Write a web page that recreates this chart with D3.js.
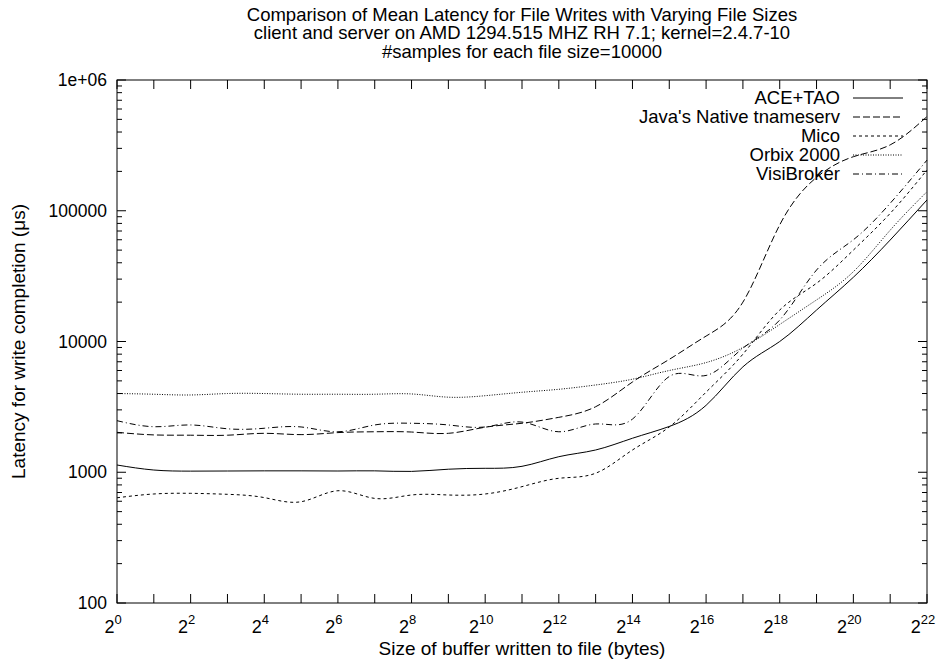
<!DOCTYPE html>
<html lang="en">
<head>
    <meta charset="UTF-8">
    <title>Mean Latency for File Writes</title>
    <style>
        body { margin: 0; background: #fff; }
        svg { font-family: "Liberation Sans", Arial, sans-serif; }
        .line { fill: none; stroke: #000; stroke-width: 1; }
    </style>
</head>
<body>
<svg width="941" height="661"></svg>
<script src="https://d3js.org/d3.v7.min.js"></script>
<script>
    // buffer sizes, 2^0 .. 2^22 bytes
    let sizes = [1, 2, 4, 8, 16, 32, 64, 128, 256, 512, 1024, 2048, 4096, 8192, 16384,
        32768, 65536, 131072, 262144, 524288, 1048576, 2097152, 4194304];

    // mean latency in microseconds
    let aceTao = [1136, 1040, 1020, 1022, 1025, 1025, 1022, 1025, 1015, 1055, 1072, 1110,
        1315, 1480, 1820, 2240, 3250, 6400, 10000, 17400, 31000, 59700, 121000];
    let javaNative = [2020, 1930, 1920, 1920, 1985, 1940, 2010, 2040, 2030, 1985, 2210, 2370,
        2630, 3170, 4900, 7300, 11000, 20000, 78000, 180000, 259000, 319000, 525000];
    let mico = [638, 682, 690, 678, 640, 595, 722, 631, 670, 670, 682, 776,
        899, 983, 1480, 2220, 4100, 8000, 17400, 27900, 50000, 95500, 205000];
    let orbix = [4000, 3950, 3900, 4000, 4000, 3950, 3950, 3950, 3970, 3750, 3850, 4090,
        4310, 4650, 5150, 6000, 6900, 9000, 13500, 20800, 34200, 71000, 140000];
    let visiBroker = [2480, 2230, 2300, 2150, 2170, 2220, 2040, 2300, 2370, 2300, 2220, 2420,
        2040, 2340, 2550, 5400, 5500, 8900, 14600, 35200, 60000, 114000, 244000];

    let seriesNames = ["ACE+TAO", "Java's Native tnameserv", "Mico", "Orbix 2000", "VisiBroker"];
    let seriesValues = [aceTao, javaNative, mico, orbix, visiBroker];
    let dashes = [null, "7,3", "3,3", "1,1.5", "6,3,1,3"];

    let yTicks = [100, 1000, 10000, 100000, 1000000];
    let yTickLabels = ["100", "1000", "10000", "100000", "1e+06"];
    let titleLines = [
        "Comparison of Mean Latency for File Writes with Varying File Sizes",
        "client and server on AMD 1294.515 MHZ RH 7.1; kernel=2.4.7-10",
        "#samples for each file size=10000"
    ];

    let svg = d3.select("svg"),
        margin = {left: 117, right: 14, top: 80, bottom: 58},
        width = +svg.attr("width") - margin.left - margin.right,
        height = +svg.attr("height") - margin.top - margin.bottom,
        g = svg.append("g").attr("transform", "translate(" + margin.left + "," + margin.top + ")");

    let x = d3.scaleLog().base(2).domain([1, 4194304]).range([0, width]);
    let y = d3.scaleLog().domain([100, 1000000]).range([height, 0]);

    // minor ticks for the log y axis
    let yMinor = [];
    for (let d = 100; d < 1000000; d *= 10) {
        for (let m = 2; m < 10; m++) yMinor.push(d * m);
    }

    // frame
    g.append("rect")
        .attr("width", width).attr("height", height)
        .attr("fill", "none").attr("stroke", "#000").attr("stroke-width", 1);

    // y ticks, left and right, pointing inwards
    function yTickMarks(values, len) {
        values.forEach(function (v) {
            g.append("line").attr("x1", 0).attr("x2", len)
                .attr("y1", y(v)).attr("y2", y(v)).attr("stroke", "#000");
            g.append("line").attr("x1", width).attr("x2", width - len)
                .attr("y1", y(v)).attr("y2", y(v)).attr("stroke", "#000");
        });
    }
    yTickMarks(yTicks, 9);
    yTickMarks(yMinor, 5);

    g.selectAll(".ylabel")
        .data(yTicks)
        .enter().append("text")
        .attr("class", "ylabel")
        .attr("x", -10)
        .attr("y", function (d) { return y(d); })
        .attr("dy", "0.35em")
        .attr("text-anchor", "end")
        .attr("font-size", 17.5)
        .text(function (d, i) { return yTickLabels[i]; });

    // x ticks at every power of two, bottom and top
    sizes.forEach(function (s) {
        g.append("line").attr("x1", x(s)).attr("x2", x(s))
            .attr("y1", height).attr("y2", height - 9).attr("stroke", "#000");
        g.append("line").attr("x1", x(s)).attr("x2", x(s))
            .attr("y1", 0).attr("y2", 9).attr("stroke", "#000");
    });

    let xLabel = g.selectAll(".xlabel")
        .data(sizes.filter(function (s, i) { return i % 2 === 0; }))
        .enter().append("text")
        .attr("class", "xlabel")
        .attr("x", function (d) { return x(d) - 4; })
        .attr("y", height + 30)
        .attr("text-anchor", "middle")
        .attr("font-size", 18);
    xLabel.append("tspan").text("2");
    xLabel.append("tspan")
        .attr("dy", -9)
        .attr("font-size", 13)
        .text(function (d) { return Math.round(Math.log2(d)); });

    // lines
    let line = d3.line()
        .x(function (d) { return x(d[0]); })
        .y(function (d) { return y(d[1]); })
        .curve(d3.curveNatural);

    seriesValues.forEach(function (vals, i) {
        g.append("path")
            .attr("class", "line")
            .attr("stroke-dasharray", dashes[i])
            .attr("d", line(sizes.map(function (s, j) { return [s, vals[j]]; })));
    });

    // legend
    let legend = g.selectAll(".legend")
        .data(seriesNames)
        .enter().append("g")
        .attr("class", "legend")
        .attr("transform", function (d, i) { return "translate(0," + (18 + i * 19) + ")"; });

    legend.append("text")
        .attr("x", 723)
        .attr("dy", "0.35em")
        .attr("text-anchor", "end")
        .attr("font-size", 18.5)
        .text(function (d) { return d; });

    legend.append("line")
        .attr("x1", 736).attr("x2", 786)
        .attr("stroke", "#000")
        .attr("stroke-dasharray", function (d, i) { return dashes[i]; });

    // title
    svg.selectAll(".title")
        .data(titleLines)
        .enter().append("text")
        .attr("class", "title")
        .attr("x", margin.left + width / 2)
        .attr("y", function (d, i) { return 21 + i * 18.3; })
        .attr("text-anchor", "middle")
        .attr("font-size", 18.5)
        .text(function (d) { return d; });

    // axis titles
    svg.append("text")
        .attr("x", margin.left + width / 2)
        .attr("y", 655)
        .attr("text-anchor", "middle")
        .attr("font-size", 19)
        .text("Size of buffer written to file (bytes)");

    svg.append("text")
        .attr("transform", "translate(25," + (margin.top + height / 2) + ") rotate(-90)")
        .attr("text-anchor", "middle")
        .attr("font-size", 19)
        .text("Latency for write completion (\u03bcs)");
</script>
</body>
</html>
